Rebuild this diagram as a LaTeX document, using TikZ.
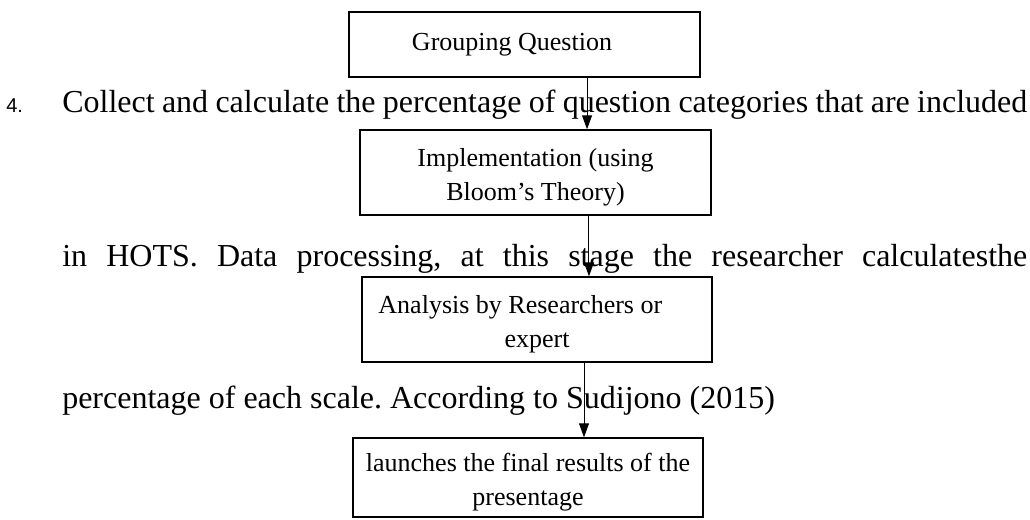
\documentclass[tikz,border=0pt]{standalone}
\usepackage{fontspec}
\setmainfont{Liberation Serif}
\newfontfamily\numfont{Liberation Sans}
\usetikzlibrary{arrows.meta}
\frenchspacing

\tikzset{
  stagebox/.style={draw, line width=1.1pt, inner sep=0pt, align=center,
    font=\fontsize{19.5}{25.5}\selectfont},
  bodyline/.style={anchor=base west, inner sep=0pt,
    font=\fontsize{24}{28}\selectfont},
  flow/.style={line width=0.75pt, -{Triangle[length=10.5pt,width=7.5pt]}}
}

\begin{document}
\begin{tikzpicture}[x=0.75pt,y=0.75pt,yscale=-1,xscale=1]
        \useasboundingbox (0,0) rectangle (1030,520);

        %Shape: Rectangle [Grouping]
        \node [stagebox, minimum width=263.25pt, minimum height=48.75pt] (grouping) at (524.5,44.5) {\hspace*{-18.75pt}Grouping Question};
        %Shape: Rectangle [Implementation]
        \node [stagebox, minimum width=263.25pt, minimum height=63.75pt, text height=46.5pt] (implement) at (535.5,172.5) {Implementation (using\\Bloom's Theory)};
        %Shape: Rectangle [Analysis]
        \node [stagebox, minimum width=262.5pt, minimum height=63.75pt, text height=46.5pt] (analysis) at (537,319.5) {Analysis by Researchers or\hspace*{25pt}\\expert};
        %Shape: Rectangle [Results]
        \node [stagebox, minimum width=262.5pt, minimum height=59.25pt, text height=46.5pt] (results) at (528,477.5) {launches the final results of the\\presentage};

        % Text Node
        \node [bodyline, font=\numfont\fontsize{15}{17}\selectfont] (itemno) at (6,113) {4.};
        % Text Node
        \node [bodyline] (lineA) at (62,113) {\makebox[723.75pt][s]{Collect and calculate the percentage of question categories that are included}};
        % Text Node
        \node [bodyline] (lineB) at (62,266) {\makebox[723.75pt][s]{in HOTS. Data processing, at this stage the researcher calculatesthe}};
        % Text Node
        \node [bodyline] (lineC) at (62,408) {percentage of each scale. According to Sudijono (2015)};

        %Straight Lines [arrows]
        \draw [flow] ([xshift=46.9pt]grouping.south) -- ([xshift=46.9pt]grouping.south |- implement.north);
        \draw [flow] ([xshift=40.1pt]implement.south) -- ([xshift=40.1pt]implement.south |- analysis.north);
        \draw [flow] ([xshift=35.25pt]analysis.south) -- ([xshift=35.25pt]analysis.south |- results.north);
\end{tikzpicture}
\end{document}
